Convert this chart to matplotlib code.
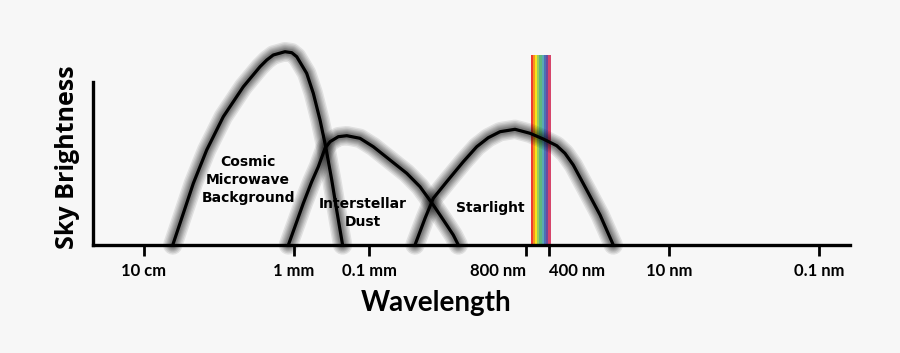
import matplotlib.pyplot as plt
import matplotlib.patheffects as pe
import numpy as np

# wavelengths in metres, brightness in arbitrary units
cmb_wl = [4.14e-2, 2.99e-2, 2.20e-2, 1.46e-2, 8.77e-3, 4.74e-3, 2.84e-3, 2.31e-3,
          1.89e-3, 1.32e-3, 1.07e-3, 9.2e-4, 6.78e-4, 5.53e-4, 4.50e-4, 3.78e-4,
          3.14e-4, 2.70e-4, 2.25e-4]
cmb_b = [0, 31.7, 61.7, 95, 128.3, 158.3, 178.3, 185, 190, 193.3, 192.3, 188.3,
         171.7, 151.7, 125, 98.3, 65, 35, 0]

dust_wl = [1.19e-3, 9.2e-4, 7.52e-4, 5.81e-4, 4.74e-4, 3.86e-4, 3.31e-4, 2.57e-4,
           1.98e-4, 1.32e-4, 8.77e-5, 5.25e-5, 3.14e-5, 2.09e-5, 1.39e-5, 1.02e-5,
           7.52e-6, 6.44e-6]
dust_b = [0, 23.3, 41.7, 63.3, 78.3, 96.7, 103.3, 108.3, 109.3, 106.7, 98.3, 85,
          71.7, 58.3, 40, 25, 10, 0]

star_wl = [2.44e-5, 1.79e-5, 1.39e-5, 9.2e-6, 5.53e-6, 3.66e-6, 2.57e-6, 1.79e-6,
           1.13e-6, 7.13e-7, 4.74e-7, 3.14e-7, 2.44e-7, 1.89e-7, 1.25e-7, 8.3e-8,
           5.53e-8]
star_b = [0, 26.7, 46.7, 63.3, 83.3, 98.3, 107.3, 113.3, 115.7, 111.7, 106, 99.3,
          91.7, 80, 55, 30, 0]

tick_wl = [1e-1, 1e-3, 1e-4, 8e-7, 4e-7, 1e-8, 1e-10]
tick_labels = ["10 cm", "1 mm", "0.1 mm", "800 nm", "400 nm", "10 nm", "0.1 nm"]

visible = (7.0e-7, 3.8e-7)
visible_top = 190
rainbow = ["#ee3b2f", "#f7941d", "#f5e51b", "#9ccb5b", "#5db87c",
           "#5aa8b4", "#4b6fb6", "#6a4c9c", "#d6456b"]

BG = "#f7f7f7"

fig = plt.figure(figsize=(9, 3.53), dpi=100, facecolor=BG)
ax = fig.add_axes([93/900, 108/353, 757/900, 215/353], facecolor=BG)
ax.set_xscale("log")
ax.set_xlim(0.479, 3.86e-11)
ax.set_ylim(0, 215)

# visible band
edges = np.geomspace(visible[0], visible[1], len(rainbow) + 1)
for c, a, b in zip(rainbow, edges[:-1], edges[1:]):
    ax.fill_between([a, b], 0, visible_top, color=c, lw=0, zorder=1)

# blurred dark halo + black core line
glow = [pe.Stroke(linewidth=w, foreground="black", alpha=0.09)
        for w in (14, 12, 10, 8.5, 7, 5.5, 4.5)]
for wl, b in [(cmb_wl, cmb_b), (dust_wl, dust_b), (star_wl, star_b)]:
    ax.plot(wl, b, color="black", lw=2.3, solid_joinstyle="round",
            solid_capstyle="round", clip_on=False, zorder=3,
            path_effects=glow + [pe.Normal()])

txt = dict(ha="center", va="center", fontsize=10, fontweight="bold",
           family="DejaVu Sans", linespacing=1.4)
ax.text(4.1e-3, 65, "Cosmic\nMicrowave\nBackground", **txt)
ax.text(1.2e-4, 32, "Interstellar\nDust", **txt)
ax.text(2.44e-6, 37, "Starlight", **txt)

for s in ["top", "right"]:
    ax.spines[s].set_visible(False)
for s in ["left", "bottom"]:
    ax.spines[s].set_linewidth(2.4)
    ax.spines[s].set_zorder(5)
ax.spines["left"].set_bounds(0, 163)

ax.set_yticks([])
ax.set_xticks(tick_wl)
ax.set_xticklabels(tick_labels, fontsize=12, fontweight="bold", family="Lato")
ax.minorticks_off()
ax.tick_params(axis="x", which="major", length=8, width=2, pad=5)
lbls = ax.get_xticklabels()
lbls[3].set_ha("right")
lbls[4].set_ha("left")

ax.set_xlabel("Wavelength", fontsize=20, fontweight="bold", family="Lato")
ax.xaxis.set_label_coords((436 - 93) / 757, -(303 - 245) / 215)
ax.set_ylabel("Sky Brightness", fontsize=18, fontweight="bold", family="Open Sans")
ax.yaxis.set_label_coords((67 - 93) / 757, (245 - 157) / 215)
ax.xaxis.label.set_va("center")
ax.yaxis.label.set_va("center")

fig.savefig("out.png", dpi=100, facecolor=BG)
